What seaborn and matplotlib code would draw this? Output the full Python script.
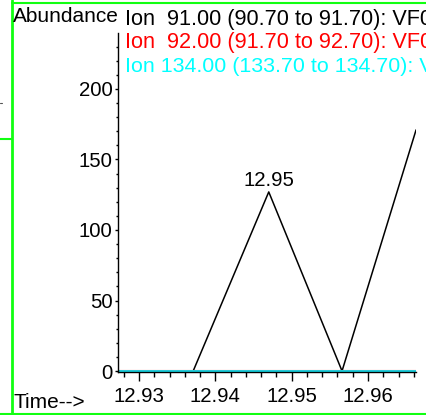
import matplotlib
matplotlib.use("Agg")
import matplotlib.pyplot as plt
from matplotlib.lines import Line2D
from matplotlib.ticker import MultipleLocator, FixedLocator
import seaborn as sns
import numpy as np

# ---- data ----
times = [12.9274, 12.9371, 12.9470, 12.9566, 12.9663]
ion91 = [0, 0, 127, 0, 171]
ion92 = [0, 0, 0, 0, 0]
ion134 = [0, 0, 0, 0, 0]
peak_time = 12.9470
peak_value = 127
peak_label = "12.95"
legend_lines = [
    ("Ion  91.00 (90.70 to 91.70): VF0", "black"),
    ("Ion  92.00 (91.70 to 92.70): VF0", "#ff0000"),
    ("Ion 134.00 (133.70 to 134.70): V", "#00ffff"),
]
x_major = [12.93, 12.94, 12.95, 12.96]
x_labels = ["12.93", "12.94", "12.95", "12.96"]
y_major = [0, 50, 100, 150, 200]

sns.set_style("white")
plt.rcParams["font.family"] = ["Liberation Sans", "DejaVu Sans"]

W, H = 426, 415
fig = plt.figure(figsize=(W / 100, H / 100), dpi=100)

def fx(px):
    return px / W

def fy(py):
    return 1 - py / H

ax_l, ax_r, ax_t, ax_b = 118, 416, 33, 372
ax = fig.add_axes([fx(ax_l), fy(ax_b), fx(ax_r) - fx(ax_l), fy(ax_t) - fy(ax_b)])
ax.set_facecolor("white")

sns.lineplot(x=times, y=ion91, ax=ax, color="black", linewidth=1.1)
sns.lineplot(x=times, y=ion92, ax=ax, color="#ff0000", linewidth=1.5)
sns.lineplot(x=times, y=ion134, ax=ax, color="#10e0f0", linewidth=2.0)

ax.set_xlim(12.92725, 12.96629)
ax.set_ylim(-0.7, 239.7)

for s in ["top", "right"]:
    ax.spines[s].set_visible(False)
for s in ["left", "bottom"]:
    ax.spines[s].set_color("black")
    ax.spines[s].set_linewidth(1.0)

ax.xaxis.set_major_locator(FixedLocator(x_major))
ax.set_xticklabels(x_labels)
ax.xaxis.set_minor_locator(MultipleLocator(0.002))
ax.yaxis.set_major_locator(FixedLocator(y_major))
ax.yaxis.set_minor_locator(MultipleLocator(10))

ax.tick_params(axis="x", which="both", bottom=True, top=False)
ax.tick_params(axis="y", which="both", left=True, right=False)
ax.tick_params(axis="x", which="major", direction="out", length=6.5, width=1.0,
               labelsize=14.7, pad=4.5, colors="black")
ax.tick_params(axis="x", which="minor", direction="out", length=3.6, width=1.0, colors="black")
ax.tick_params(axis="y", which="major", direction="out", length=2.5, width=1.0,
               labelsize=14.7, pad=1.5, colors="black")
ax.tick_params(axis="y", which="minor", direction="out", length=1.5, width=1.0, colors="black")
ax.set_xlabel("")
ax.set_ylabel("")
ax.grid(False)

ax.annotate(peak_label, xy=(peak_time, peak_value), xytext=(0, 4.3),
            textcoords="offset points", ha="center", va="baseline",
            fontsize=14.7, color="black")

# ---- surrounding texts ----
fig.text(fx(13), fy(22), "Abundance", fontsize=15, va="baseline", ha="left", color="black")
fig.text(fx(13), fy(408), "Time-->", fontsize=15, va="baseline", ha="left", color="black")
for (txt, col), base, fs in zip(legend_lines, [25, 48, 72], [15.6, 15.6, 15.4]):
    fig.text(fx(125), fy(base), txt, fontsize=fs, va="baseline", ha="left", color=col)

# ---- green window borders ----
green = "#11ff11"
def hline(x0, x1, y, color=green, lw=1.5):
    fig.add_artist(Line2D([fx(x0), fx(x1)], [fy(y), fy(y)], transform=fig.transFigure,
                          color=color, linewidth=lw))
def vline(x, y0, y1, color=green, lw=2.0):
    fig.add_artist(Line2D([fx(x), fx(x)], [fy(y0), fy(y1)], transform=fig.transFigure,
                          color=color, linewidth=lw))

vline(11.5, 0, 415)
hline(12, 426, 3.5)
hline(0, 426, 413.5)
hline(0, 11, 139)
hline(0, 1.5, 103, color="#555555", lw=0.8)

fig.savefig("out.png", dpi=100, facecolor="white")
